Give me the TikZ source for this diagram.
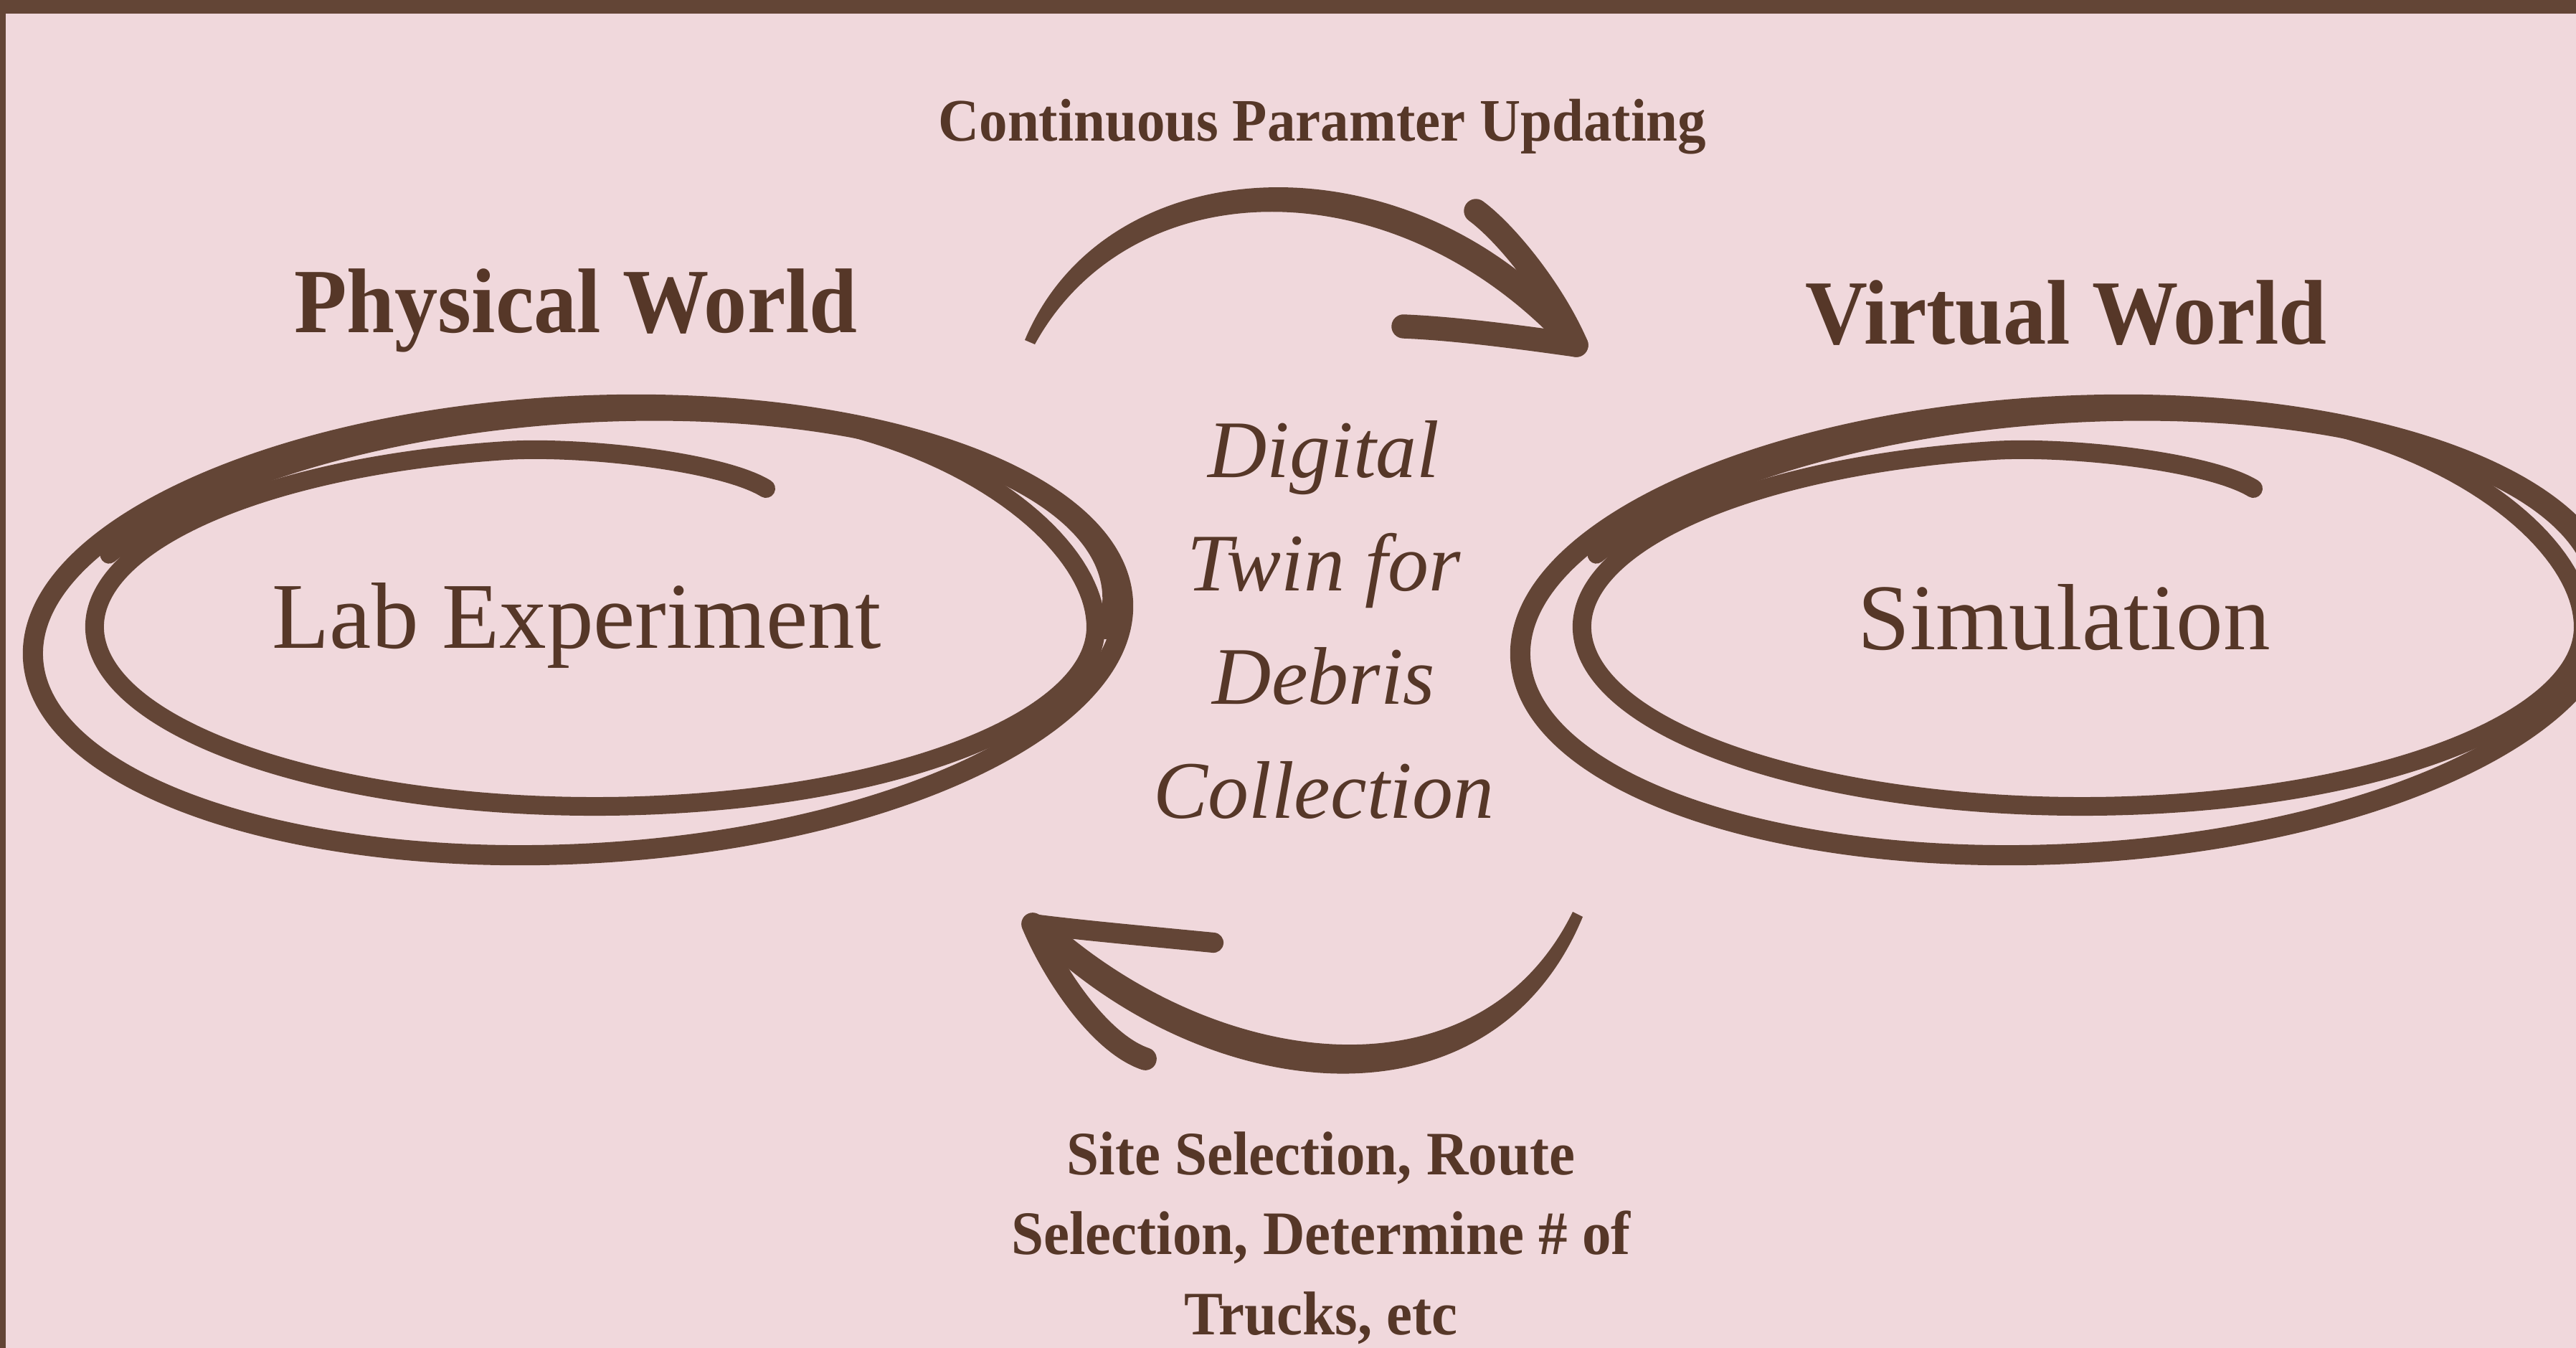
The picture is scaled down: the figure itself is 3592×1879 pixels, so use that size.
\documentclass[tikz,border=0pt]{standalone}
\usepackage{fontspec}
\setmainfont{Liberation Serif}
\newfontfamily\condserif[FakeStretch=0.94]{Liberation Serif}

\definecolor{bgpink}{RGB}{240,216,220}
\definecolor{inkbrown}{RGB}{99,69,54}
\definecolor{textbrown}{RGB}{86,55,40}

\tikzset{
  ink/.style={draw=inkbrown, line cap=round, line join=round},
  label/.style={text=textbrown, inner sep=0pt, anchor=base},
  heading/.style={label, font={\condserif\bfseries\fontsize{36.4pt}{40pt}\selectfont}},
  caption/.style={label, align=center},
  boxtext/.style={label, font={\fontsize{37.3pt}{42pt}\selectfont}},
  declare function={
    % blend weight between the inner and the outer loop
    ww(\t)=(\t/70)^2*(3-2*\t/70);
    % inner loop (centre (24,-4), radii 698 x 250)
    bx(\t)=24+698*cos(\t);
    by(\t)=-4-250*sin(\t);
    % outer loop (radii 761 x 312, tilted 3 degrees)
    ax(\t)=761*cos(\t)*cos(3)-312*sin(\t)*sin(3);
    ay(\t)=-761*cos(\t)*sin(3)-312*sin(\t)*cos(3);
  },
  % hand-drawn loop of ellipses around a label
  scribble/.pic={
    \draw[ink, line width=8pt, rotate=3] (0,0) ellipse [x radius=761, y radius=312];
    \draw[ink, line width=7pt, rotate=4]
      ({745*cos(10)},{300*sin(10)}) arc[start angle=10, end angle=-150, x radius=745, y radius=300];
    \draw[ink, line width=7.4pt]
      (262,-197) .. controls (200,-235) and (6,-256) .. ({24+698*cos(-100)},{-4+250*sin(-100)})
      arc[start angle=-100, end angle=-360, x radius=698, y radius=250]
      -- plot[domain=0:70, samples=40, variable=\t]
         ({(1-ww(\t))*bx(\t)+ww(\t)*ax(\t)}, {(1-ww(\t))*by(\t)+ww(\t)*ay(\t)});
  }
}

\begin{document}
\begin{tikzpicture}[x=0.01cm, y=-0.01cm]
  \useasboundingbox (0,0) rectangle (3592,1879);
  \clip (0,0) rectangle (3592,1879);

  % page and frame
  \fill[bgpink] (0,0) rectangle (3592,1879);
  \fill[inkbrown] (0,0) rectangle (3592,19);
  \fill[inkbrown] (0,0) rectangle (8,1879);

  % titles
  \node[label, font={\condserif\bfseries\fontsize{23.9pt}{28pt}\selectfont}] (upd) at (1844,197) {Continuous Paramter Updating};
  \node[heading] (phys) at (803,463) {Physical World};
  \node[heading] (virt) at (2881,479) {Virtual World};

  % the two worlds
  \node[boxtext] (lab) at (804,903) {Lab Experiment};
  \node[boxtext] (sim) at (2878,905) {Simulation};
  \pic at (806,878) {scribble};
  \pic at (2880,878) {scribble};

  % centre caption (base anchor sits on the last line)
  \node[caption, font={\itshape\fontsize{32.4pt}{45pt}\selectfont}] (twin) at (1846,1140) {Digital\\Twin for\\Debris\\Collection};

  % bottom caption
  \node[caption, font={\condserif\bfseries\fontsize{24.5pt}{31.6pt}\selectfont}] (plan) at (1842,1860) {Site Selection, Route\\Selection, Determine \# of\\Trucks, etc};

  % upper arrow: physical -> virtual
  \coordinate (topTip) at (2198,481);
  \fill[inkbrown] (1429,474) .. controls (1545,197) and (1975,186) .. (2208,466)
    -- (2184,490) .. controls (1945,228) and (1577,236) .. (1443,480) -- cycle;
  \draw[ink, line width=9.5pt] (2058,294) .. controls (2100,325) and (2165,405) .. (topTip);
  \draw[ink, line width=9.5pt] (1957,455) .. controls (2030,458) and (2120,470) .. (topTip);

  % lower arrow: virtual -> physical
  \coordinate (bottomTip) at (1440,1288);
  \fill[inkbrown] (2207,1278) .. controls (2078,1588) and (1680,1542) .. (1438,1304)
    -- (1462,1280) .. controls (1698,1494) and (2062,1538) .. (2193,1271) -- cycle;
  \draw[ink, line width=8pt] (bottomTip) .. controls (1500,1296) and (1600,1305) .. (1692,1314);
  \draw[ink, line width=9pt] (bottomTip) .. controls (1470,1360) and (1535,1455) .. (1597,1476);
\end{tikzpicture}
\end{document}
